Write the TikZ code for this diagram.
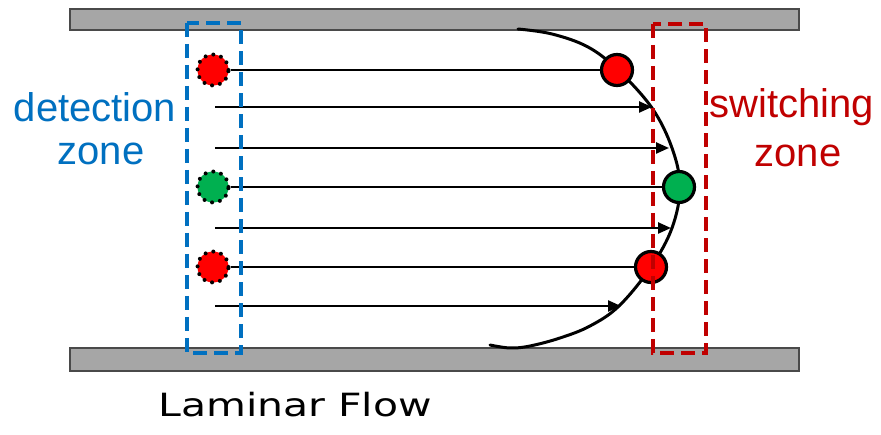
\documentclass[tikz,border=0pt]{standalone}
\usepackage{fontspec}
\usetikzlibrary{arrows.meta}
\newfontfamily\arialf{Liberation Sans}
\newfontfamily\lamf{DejaVu Sans}
\definecolor{wallgray}{HTML}{A6A6A6}
\definecolor{walledge}{HTML}{4A4A4A}
\definecolor{zoneblue}{HTML}{0070C0}
\definecolor{zonered}{HTML}{C00000}
\definecolor{dotred}{HTML}{FF0000}
\definecolor{dotgreen}{HTML}{00B050}
\pgfdeclarelayer{bg}
\pgfsetlayers{bg,main}
\tikzset{
  wall/.style={fill=wallgray, draw=walledge, line width=1.2pt},
  flowline/.style={line width=2.4pt, black},
  flowarrow/.style={flowline, -{Triangle[length=13pt,width=11pt]}},
  srcdot/.style={circle, minimum size=31pt, inner sep=0pt, draw=black, line width=4pt, dash pattern=on 0pt off 8pt, line cap=round},
  dstdot/.style={circle, minimum size=31pt, inner sep=0pt, draw=black, line width=3.2pt},
  zonebox/.style={line width=3.5pt, dash pattern=on 14pt off 7pt},
  zonetext/.style={font=\arialf\fontsize{40}{43}\selectfont, anchor=base},
}
\begin{document}
\begin{tikzpicture}[x=1pt,y=-1pt]
\useasboundingbox (0,0) rectangle (881,435);
% walls
\begin{pgfonlayer}{bg}
\fill[white] (0,0) rectangle (881,435);
\draw[wall] (70,9) rectangle (799,30);
\draw[wall] (70,348) rectangle (799,371);
\end{pgfonlayer}
% dots
\node[srcdot, fill=dotred]   (s1) at (213,70)  {};
\node[srcdot, fill=dotgreen] (s2) at (213,187) {};
\node[srcdot, fill=dotred]   (s3) at (213,267) {};
\node[dstdot, fill=dotred]   (d1) at (617,70)  {};
\node[dstdot, fill=dotgreen] (d2) at (679,187) {};
\node[dstdot, fill=dotred]   (d3) at (651,267) {};
% free ends of the streamlines
\coordinate (a1s) at (215,107); \coordinate (a1e) at (652,107);
\coordinate (a2s) at (215,148); \coordinate (a2e) at (669,148);
\coordinate (a3s) at (215,228); \coordinate (a3e) at (671,228);
\coordinate (a4s) at (215,306); \coordinate (a4e) at (621,306);
\begin{pgfonlayer}{bg}
\draw[flowline] (s1) -- (d1);
\draw[flowline] (s2) -- (d2);
\draw[flowline] (s3) -- (d3);
\draw[flowarrow] (a1s) -- (a1e);
\draw[flowarrow] (a2s) -- (a2e);
\draw[flowarrow] (a3s) -- (a3e);
\draw[flowarrow] (a4s) -- (a4e);
% velocity profile
\draw[line width=3pt, line cap=round] plot[smooth, tension=0.6] coordinates {
  (518,29) (552,34) (588,47) (618,70) (652,108) (672,148) (680,187)
  (672,228) (651,267) (619,306) (590,326) (560,338) (530,346) (510,348) (490,345)};
\end{pgfonlayer}
% zones
\draw[zonebox, draw=zoneblue] (187,23) rectangle (241,353);
\draw[zonebox, draw=zonered] (653,24) rectangle (706,353);
% labels
\node[zonetext, text=zoneblue] (dt1) at (95,122) {detection};
\node[zonetext, text=zoneblue] (dt2) at (101,165) {zone};
\node[zonetext, text=zonered] (sw1) at (792,118) {switching};
\node[zonetext, text=zonered] (sw2) at (798,167) {zone};
\node[font=\lamf\fontsize{32}{36}\selectfont, anchor=base, xscale=1.28] (lam) at (295,417) {Laminar Flow};
\end{tikzpicture}
\end{document}
